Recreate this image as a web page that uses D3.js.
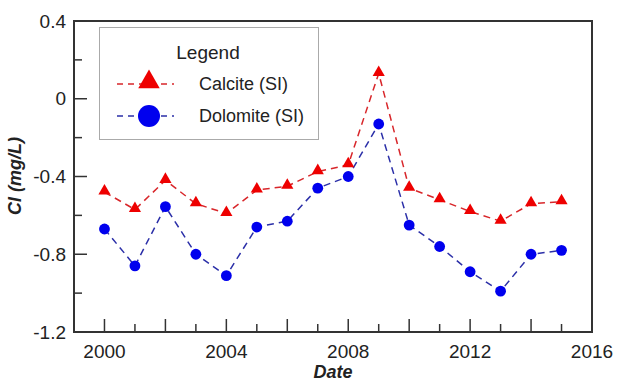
<!DOCTYPE html>
<html>
<head>
<meta charset="utf-8">
<script src="https://d3js.org/d3.v7.min.js"></script>
<style>
  body { margin: 0; background: #fff; }
  text { font-family: "Liberation Sans", Arial, sans-serif; fill: #222; }
</style>
</head>
<body>
<div class="chart"></div>
<script>
// Data
var years = [2000, 2001, 2002, 2003, 2004, 2005, 2006, 2007, 2008, 2009, 2010, 2011, 2012, 2013, 2014, 2015];
var calcite = [-0.48, -0.57, -0.42, -0.54, -0.59, -0.47, -0.45, -0.375, -0.34, 0.13, -0.46, -0.52, -0.58, -0.63, -0.54, -0.53];
var dolomite = [-0.67, -0.86, -0.555, -0.80, -0.91, -0.66, -0.63, -0.46, -0.40, -0.13, -0.65, -0.76, -0.89, -0.99, -0.80, -0.78];
var xTickLabels = [2000, 2004, 2008, 2012, 2016];
var yTickLabels = [0.4, 0, -0.4, -0.8, -1.2];
var seriesNames = ["Calcite (SI)", "Dolomite (SI)"];

var svgWidth = 617;
var svgHeight = 383;

var margin = { top: 21, right: 25, bottom: 51, left: 74 };

var width = svgWidth - margin.left - margin.right;
var height = svgHeight - margin.top - margin.bottom;

var svg = d3.select(".chart")
  .append("svg")
  .attr("width", svgWidth)
  .attr("height", svgHeight);

var chartGroup = svg.append("g")
  .attr("transform", `translate(${margin.left}, ${margin.top})`);

// scales
var xScale = d3.scaleLinear().domain([1999, 2016]).range([0, width]);
var yScale = d3.scaleLinear().domain([-1.2, 0.4]).range([height, 0]);

var frameColor = "#333";

// frame
chartGroup.append("rect")
  .attr("width", width)
  .attr("height", height)
  .attr("fill", "none")
  .attr("stroke", frameColor)
  .attr("stroke-width", 2);

// bottom ticks, pointing inward: long on even years, short on odd
var xTicks = d3.range(2000, 2016);
chartGroup.append("g")
  .selectAll("line")
  .data(xTicks)
  .enter()
  .append("line")
  .attr("x1", d => xScale(d))
  .attr("x2", d => xScale(d))
  .attr("y1", height)
  .attr("y2", d => height - (d % 2 === 0 ? 13 : 8))
  .attr("stroke", frameColor)
  .attr("stroke-width", 1.5);

chartGroup.append("g")
  .selectAll("text")
  .data(xTickLabels)
  .enter()
  .append("text")
  .attr("x", d => xScale(d))
  .attr("y", height + 26)
  .attr("text-anchor", "middle")
  .style("font-size", "19px")
  .text(d => d);

// left ticks
var yTicks = [0.2, -0.2, -0.6, -1.0].concat(yTickLabels);
chartGroup.append("g")
  .selectAll("line")
  .data(yTicks)
  .enter()
  .append("line")
  .attr("x1", 0)
  .attr("x2", d => yTickLabels.indexOf(d) >= 0 ? 13 : 8)
  .attr("y1", d => yScale(d))
  .attr("y2", d => yScale(d))
  .attr("stroke", frameColor)
  .attr("stroke-width", 1.5);

chartGroup.append("g")
  .selectAll("text")
  .data(yTickLabels)
  .enter()
  .append("text")
  .attr("x", -8)
  .attr("y", d => yScale(d))
  .attr("dy", "0.35em")
  .attr("text-anchor", "end")
  .style("font-size", "19px")
  .text(d => d);

// lines + markers
var line = d3.line()
  .x((d, i) => xScale(years[i]))
  .y(d => yScale(d));

var triangle = d3.symbol().type(d3.symbolTriangle);

chartGroup.append("path")
  .datum(calcite)
  .attr("d", line)
  .attr("fill", "none")
  .attr("stroke", "#d8262a")
  .attr("stroke-width", 1.5)
  .attr("stroke-dasharray", "7,5");

chartGroup.append("path")
  .datum(dolomite)
  .attr("d", line)
  .attr("fill", "none")
  .attr("stroke", "#2b2fa8")
  .attr("stroke-width", 1.5)
  .attr("stroke-dasharray", "7,5");

chartGroup.selectAll(".tri")
  .data(calcite)
  .enter()
  .append("path")
  .attr("class", "tri")
  .attr("transform", (d, i) => `translate(${xScale(years[i])}, ${yScale(d) - 1})`)
  .attr("d", triangle.size(64))
  .attr("fill", "#ee0000");

chartGroup.selectAll(".dot")
  .data(dolomite)
  .enter()
  .append("circle")
  .attr("class", "dot")
  .attr("cx", (d, i) => xScale(years[i]))
  .attr("cy", d => yScale(d))
  .attr("r", 5.4)
  .attr("fill", "#0000ee");

// legend
var legend = svg.append("g");

legend.append("rect")
  .attr("x", 99.5)
  .attr("y", 27.5)
  .attr("width", 219)
  .attr("height", 112)
  .attr("fill", "#fff")
  .attr("stroke", "#aaa")
  .attr("stroke-width", 1);

legend.append("text")
  .attr("x", 208)
  .attr("y", 59)
  .attr("text-anchor", "middle")
  .style("font-size", "19px")
  .text("Legend");

var legendY = [84, 116];
var legendColors = ["#d8262a", "#2b2fa8"];

legend.selectAll(".lline")
  .data(seriesNames)
  .enter()
  .append("line")
  .attr("class", "lline")
  .attr("x1", 117)
  .attr("x2", 174)
  .attr("y1", (d, i) => legendY[i])
  .attr("y2", (d, i) => legendY[i])
  .attr("stroke", (d, i) => legendColors[i])
  .attr("stroke-width", 1.5)
  .attr("stroke-dasharray", "6,5");

legend.append("path")
  .attr("transform", `translate(149, ${legendY[0] - 2})`)
  .attr("d", d3.symbol().type(d3.symbolTriangle).size(200)())
  .attr("fill", "#ee0000");

legend.append("circle")
  .attr("cx", 149)
  .attr("cy", legendY[1])
  .attr("r", 11)
  .attr("fill", "#0000ee");

legend.selectAll(".ltext")
  .data(seriesNames)
  .enter()
  .append("text")
  .attr("class", "ltext")
  .attr("x", 199)
  .attr("y", (d, i) => legendY[i])
  .attr("dy", "0.35em")
  .style("font-size", "18px")
  .text(d => d);

// axis titles
svg.append("text")
  .attr("transform", `translate(${margin.left + width / 2}, 378)`)
  .attr("text-anchor", "middle")
  .style("font-size", "18px")
  .style("font-weight", "bold")
  .style("font-style", "italic")
  .text("Date");

svg.append("text")
  .attr("transform", "translate(21, 176) rotate(-90)")
  .attr("text-anchor", "middle")
  .style("font-size", "18px")
  .style("font-weight", "bold")
  .style("font-style", "italic")
  .text("Cl (mg/L)");
</script>
</body>
</html>
